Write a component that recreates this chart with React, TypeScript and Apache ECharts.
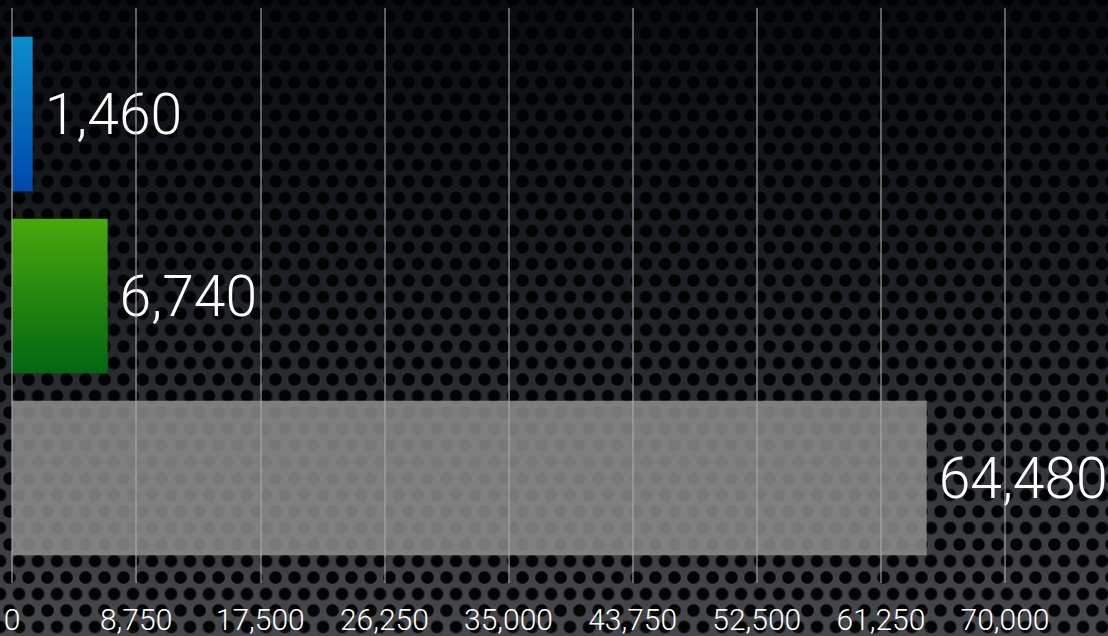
import React, { useEffect, useRef } from "react";
import * as echarts from "echarts";

const categories = ["A", "B", "C"];
const values = [1460, 6740, 64480];
const tickMin = 0;
const tickMax = 70000;
const tickInterval = 8750;

const barColors = [
  new echarts.graphic.LinearGradient(0, 0, 0, 1, [
    { offset: 0, color: "#0a8ccc" },
    { offset: 1, color: "#0048ac" },
  ]),
  new echarts.graphic.LinearGradient(0, 0, 0, 1, [
    { offset: 0, color: "#4aa80c" },
    { offset: 1, color: "#006812" },
  ]),
  "rgba(140,140,140,0.86)",
];

const fmt = (v: number) => v.toLocaleString("en-US");
const FONT = "Roboto, 'Liberation Sans', sans-serif";

export default function App() {
  const ref = useRef<HTMLDivElement>(null);
  useEffect(() => {
    if (!ref.current) return;
    const chart = echarts.init(ref.current, undefined, { renderer: "svg" });
    chart.setOption({
      animation: false,
      backgroundColor: "transparent",
      grid: [
        { left: 12, right: 103, top: 8, bottom: 53 },
        { left: 12, right: 103, top: 23, bottom: 67 },
      ],
      xAxis: [
        {
          type: "value",
          gridIndex: 0,
          min: tickMin,
          max: tickMax,
          interval: tickInterval,
          z: 5,
          axisLine: { show: false },
          axisTick: { show: false },
          splitLine: { show: true, lineStyle: { color: "rgba(170,170,170,0.55)", width: 2 } },
          axisLabel: {
            color: "#ffffff",
            fontFamily: FONT,
            fontWeight: 300,
            fontSize: 30,
            lineHeight: 30,
            margin: 21,
            formatter: (v: number) => fmt(v),
          },
        },
        {
          type: "value",
          gridIndex: 1,
          min: tickMin,
          max: tickMax,
          interval: tickInterval,
          show: false,
          splitLine: { show: false },
        },
      ],
      yAxis: [
        { type: "category", gridIndex: 0, data: categories, show: false },
        { type: "category", gridIndex: 1, data: categories, inverse: true, show: false },
      ],
      series: [
        {
          type: "bar",
          xAxisIndex: 1,
          yAxisIndex: 1,
          barCategoryGap: "15%",
          data: values.map((v, i) => ({ value: v, itemStyle: { color: barColors[i] } })),
          label: {
            show: true,
            position: "right",
            distance: 12,
            color: "#ffffff",
            fontFamily: FONT,
            fontWeight: 300,
            fontSize: 57,
            formatter: (p: any) => fmt(p.value),
          },
        },
      ],
    });
    return () => chart.dispose();
  }, []);

  return (
    <div
      style={{
        position: "fixed",
        left: 0,
        top: 0,
        width: 1108,
        height: 636,
        overflow: "hidden",
        backgroundColor: "#2a2d31",
        backgroundImage:
          "radial-gradient(circle at center, rgba(0,0,0,0.95) 0 5.5px, rgba(0,0,0,0) 7px)," +
          "radial-gradient(circle at center, rgba(0,0,0,0.95) 0 5.5px, rgba(0,0,0,0) 7px)," +
          "linear-gradient(to bottom, #080b0f 0%, #1a1e22 40%, #46484c 100%)",
        backgroundSize: "19px 33px, 19px 33px, 100% 100%",
        backgroundPosition: "0 0, 9.5px 16.5px, 0 0",
      }}
    >
      <div ref={ref} style={{ width: 1108, height: 636 }} />
    </div>
  );
}
